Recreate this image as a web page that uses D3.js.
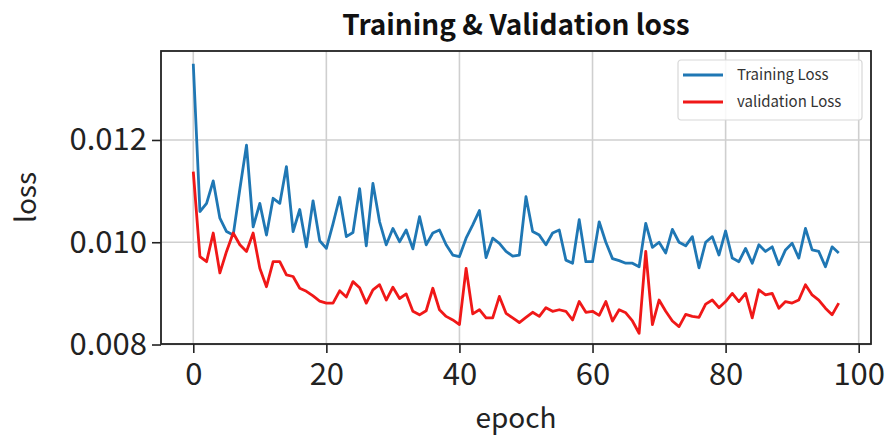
<!DOCTYPE html>
<html>
<head>
<meta charset="utf-8">
<script src="https://cdn.jsdelivr.net/npm/d3@7"></script>
<style>
  body { margin: 0; background: #fff; }
  svg { display: block; }
</style>
</head>
<body>
<script>
// values, epochs 0..97
var trainLoss = [
  0.01349, 0.01060, 0.01076, 0.01120, 0.01047, 0.01021, 0.01014, 0.01104, 0.01190, 0.01030,
  0.01076, 0.01014, 0.01086, 0.01076, 0.01148, 0.01021, 0.01064, 0.00991, 0.01081, 0.01003,
  0.00988, 0.01036, 0.01088, 0.01011, 0.01019, 0.01105, 0.00993, 0.01115, 0.01040, 0.00995,
  0.01027, 0.01001, 0.01024, 0.00987, 0.01050, 0.00995, 0.01018, 0.01024, 0.00995, 0.00975,
  0.00972, 0.01008, 0.01034, 0.01062, 0.00970, 0.01008, 0.00998, 0.00982, 0.00973, 0.00975,
  0.01089, 0.01021, 0.01014, 0.00995, 0.01018, 0.01024, 0.00965, 0.00959, 0.01044, 0.00962,
  0.00962, 0.01040, 0.01000, 0.00968, 0.00964, 0.00959, 0.00959, 0.00952, 0.01037, 0.00990,
  0.01000, 0.00979, 0.01025, 0.01000, 0.00993, 0.01011, 0.00950, 0.01000, 0.01011, 0.00975,
  0.01022, 0.00969, 0.00962, 0.00988, 0.00959, 0.00995, 0.00982, 0.00991, 0.00956, 0.00985,
  0.00998, 0.00969, 0.01027, 0.00985, 0.00982, 0.00952, 0.00991, 0.00979
];
var valLoss = [
  0.01138, 0.00972, 0.00962, 0.01018, 0.00940, 0.00982, 0.01018, 0.00995, 0.00982, 0.01018,
  0.00949, 0.00913, 0.00962, 0.00962, 0.00936, 0.00933, 0.00910, 0.00904, 0.00895, 0.00885,
  0.00881, 0.00881, 0.00905, 0.00893, 0.00923, 0.00911, 0.00881, 0.00907, 0.00917, 0.00887,
  0.00912, 0.00890, 0.00899, 0.00865, 0.00858, 0.00866, 0.00910, 0.00868, 0.00855, 0.00848,
  0.00839, 0.00949, 0.00860, 0.00868, 0.00852, 0.00852, 0.00894, 0.00861, 0.00852, 0.00843,
  0.00853, 0.00863, 0.00855, 0.00872, 0.00865, 0.00868, 0.00865, 0.00848, 0.00884, 0.00863,
  0.00865, 0.00857, 0.00884, 0.00846, 0.00868, 0.00862, 0.00846, 0.00822, 0.00982, 0.00839,
  0.00887, 0.00865, 0.00846, 0.00835, 0.00859, 0.00855, 0.00853, 0.00879, 0.00887, 0.00872,
  0.00884, 0.00900, 0.00884, 0.00900, 0.00852, 0.00907, 0.00897, 0.00900, 0.00871, 0.00884,
  0.00881, 0.00887, 0.00917, 0.00897, 0.00887, 0.00871, 0.00858, 0.00881
];
var xTicks = [0, 20, 40, 60, 80, 100];
var yTicks = [0.008, 0.010, 0.012];
var seriesNames = ["Training Loss", "validation Loss"];

var width = 885, height = 438;
var margin = {top: 51, right: 14, bottom: 94, left: 161};
var fontFamily = "'Noto Sans CJK KR', 'Noto Sans', sans-serif";

var svg = d3.select("body").append("svg")
    .attr("width", width)
    .attr("height", height);

var x = d3.scaleLinear()
    .domain([-4.85, 101.85])
    .range([margin.left, width - margin.right]);
var y = d3.scaleLinear()
    .domain([0.00801, 0.01374])
    .range([height - margin.bottom, margin.top]);

// grid
svg.append("g").selectAll("line.gx")
    .data(xTicks)
    .enter().append("line")
    .attr("x1", function(d) { return x(d); })
    .attr("x2", function(d) { return x(d); })
    .attr("y1", margin.top)
    .attr("y2", height - margin.bottom)
    .attr("stroke", "#cfcfcf")
    .attr("stroke-width", 1.6);
svg.append("g").selectAll("line.gy")
    .data(yTicks)
    .enter().append("line")
    .attr("x1", margin.left)
    .attr("x2", width - margin.right)
    .attr("y1", function(d) { return y(d); })
    .attr("y2", function(d) { return y(d); })
    .attr("stroke", "#cfcfcf")
    .attr("stroke-width", 1.6);

// lines
var line = d3.line()
    .x(function(d, i) { return x(i); })
    .y(function(d) { return y(d); });

svg.append("path")
    .datum(trainLoss)
    .attr("fill", "none")
    .attr("stroke", "#1f77b4")
    .attr("stroke-width", 2.8)
    .attr("stroke-linejoin", "round")
    .attr("d", line);

svg.append("path")
    .datum(valLoss)
    .attr("fill", "none")
    .attr("stroke", "#f01818")
    .attr("stroke-width", 2.8)
    .attr("stroke-linejoin", "round")
    .attr("d", line);

// axes
var xAxis = d3.axisBottom(x)
    .tickValues(xTicks)
    .tickSize(9)
    .tickPadding(10)
    .tickFormat(d3.format("d"));
var yAxis = d3.axisLeft(y)
    .tickValues(yTicks)
    .tickSize(9)
    .tickPadding(5)
    .tickFormat(d3.format(".3f"));

var gx = svg.append("g")
    .attr("transform", "translate(0," + (height - margin.bottom) + ")")
    .call(xAxis);
var gy = svg.append("g")
    .attr("transform", "translate(" + margin.left + ",0)")
    .call(yAxis);

[gx, gy].forEach(function(g) {
    g.select(".domain").remove();
    g.selectAll(".tick line").attr("stroke", "#222").attr("stroke-width", 1.6);
    g.selectAll(".tick text")
        .attr("fill", "#222")
        .style("font-family", fontFamily)
        .style("font-size", "31px");
});

// frame
svg.append("rect")
    .attr("x", margin.left)
    .attr("y", margin.top)
    .attr("width", width - margin.right - margin.left)
    .attr("height", height - margin.bottom - margin.top)
    .attr("fill", "none")
    .attr("stroke", "#222")
    .attr("stroke-width", 1.8);

// title and labels
svg.append("text")
    .attr("x", (margin.left + width - margin.right) / 2)
    .attr("y", 35)
    .attr("text-anchor", "middle")
    .style("font-family", fontFamily)
    .style("font-weight", "bold")
    .style("font-size", "28px")
    .attr("fill", "#111")
    .text("Training & Validation loss");

svg.append("text")
    .attr("x", (margin.left + width - margin.right) / 2)
    .attr("y", 428)
    .attr("text-anchor", "middle")
    .style("font-family", fontFamily)
    .style("font-size", "28px")
    .attr("fill", "#222")
    .text("epoch");

svg.append("text")
    .attr("transform", "translate(36," + ((margin.top + height - margin.bottom) / 2) + ") rotate(-90)")
    .attr("text-anchor", "middle")
    .style("font-family", fontFamily)
    .style("font-size", "28px")
    .attr("fill", "#222")
    .text("loss");

// legend
var legend = svg.append("g").attr("transform", "translate(678,60)");
legend.append("rect")
    .attr("width", 184)
    .attr("height", 60)
    .attr("rx", 3)
    .attr("fill", "#fff")
    .attr("fill-opacity", 0.85)
    .attr("stroke", "#d8d8d8")
    .attr("stroke-width", 1.2);
var legendColors = ["#1f77b4", "#f01818"];
var item = legend.selectAll("g.item")
    .data(seriesNames)
    .enter().append("g")
    .attr("transform", function(d, i) { return "translate(0," + (15 + i * 27) + ")"; });
item.append("line")
    .attr("x1", 5).attr("x2", 45)
    .attr("stroke", function(d, i) { return legendColors[i]; })
    .attr("stroke-width", 2.8);
item.append("text")
    .attr("x", 59)
    .attr("dy", "0.35em")
    .style("font-family", fontFamily)
    .style("font-size", "15px")
    .attr("fill", "#333")
    .text(function(d) { return d; });
</script>
</body>
</html>
